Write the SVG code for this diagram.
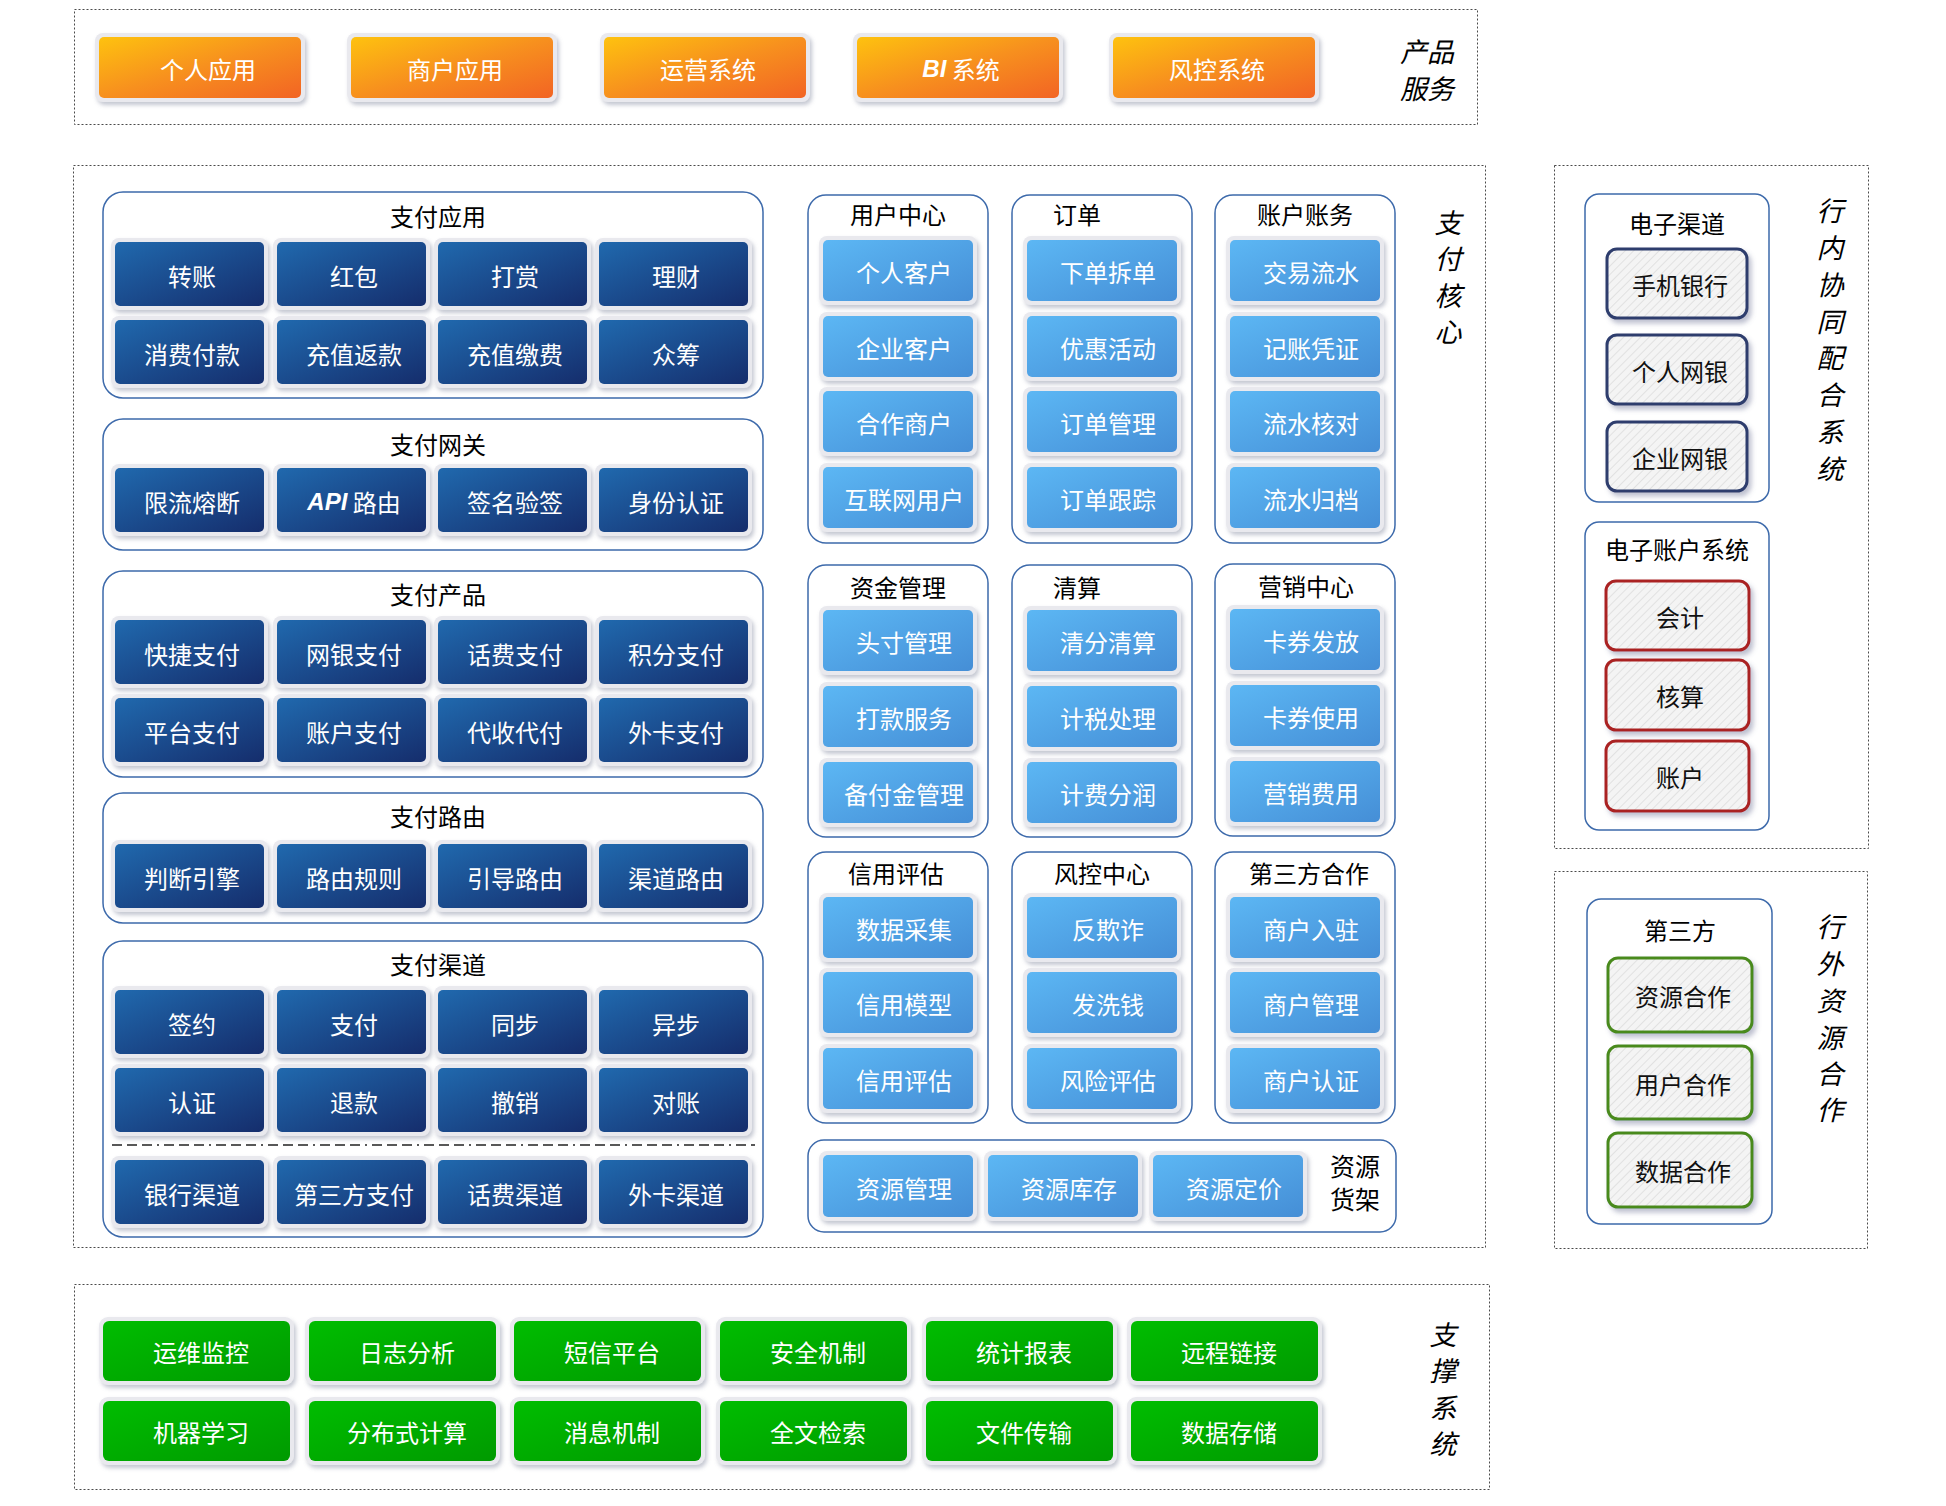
<svg xmlns="http://www.w3.org/2000/svg" width="1946" height="1506" viewBox="0 0 1946 1506">
<defs>
<linearGradient id="gOR" x1="0" y1="0" x2="1" y2="1"><stop offset="0" stop-color="#FEC20F"/><stop offset="0.5" stop-color="#F7901E"/><stop offset="1" stop-color="#F26424"/></linearGradient>
<linearGradient id="gDB" x1="0" y1="0" x2="1" y2="1"><stop offset="0" stop-color="#2069AE"/><stop offset="1" stop-color="#152D6C"/></linearGradient>
<linearGradient id="gLB" x1="0" y1="0" x2="1" y2="1"><stop offset="0" stop-color="#5CB7F4"/><stop offset="1" stop-color="#458ED6"/></linearGradient>
<linearGradient id="gGR" x1="0" y1="0" x2="1" y2="1"><stop offset="0" stop-color="#00BD00"/><stop offset="1" stop-color="#009A00"/></linearGradient>
<filter id="sh" x="-10%" y="-15%" width="125%" height="145%"><feDropShadow dx="2" dy="3" stdDeviation="2" flood-color="#7d8299" flood-opacity="0.45"/></filter>
<filter id="sh2" x="-10%" y="-15%" width="125%" height="145%"><feDropShadow dx="3" dy="4" stdDeviation="2.5" flood-color="#6d7596" flood-opacity="0.45"/></filter>
<pattern id="hatch" width="6" height="6" patternUnits="userSpaceOnUse" patternTransform="rotate(45)"><rect width="6" height="6" fill="#f4f4f4"/><line x1="0" y1="0" x2="0" y2="6" stroke="#e1e1e1" stroke-width="2"/></pattern>
</defs>
<style>
.box{fill:none;stroke:#4a4a4a;stroke-width:1;stroke-dasharray:2 2}
.panel{fill:#fff;stroke:#3d6aab;stroke-width:1.5}
.halo{fill:#e9e9ee;filter:url(#sh)}
.or{fill:url(#gOR)}.db{fill:url(#gDB)}.lb{fill:url(#gLB)}.gr{fill:url(#gGR)}
.rb{fill:url(#hatch);stroke-width:3;filter:url(#sh2)}
.nv{stroke:#2d3d6d}.rd{stroke:#aa2222}.gn{stroke:#4a8a1e}
.t{font-family:"Noto Sans CJK SC","Liberation Sans",sans-serif;font-size:24px;text-anchor:middle;dominant-baseline:central}
.w{fill:#fff}.k{fill:#111}
.ti{fill:#000}
.lbl{font-style:italic;font-size:27px;fill:#000}
.dsh{stroke:#222;stroke-width:1.5;stroke-dasharray:10 5 10 5 10 5 2 5;fill:none}
.en{font-family:"Liberation Sans",sans-serif;font-weight:bold;font-style:italic}
</style>

<!-- outer dashed regions -->
<g id="region-product"><rect class="box" x="74.5" y="9.5" width="1403" height="115"/>
<text class="t lbl" x="1427" y="50">产品</text><text class="t lbl" x="1427" y="87">服务</text></g>
<g id="region-core"><rect class="box" x="73.5" y="165.5" width="1412" height="1082"/>
<text class="t lbl" x="1448" y="221">支</text><text class="t lbl" x="1448" y="257">付</text><text class="t lbl" x="1448" y="294">核</text><text class="t lbl" x="1448" y="330">心</text></g>
<g id="region-inner"><rect class="box" x="1554.5" y="165.5" width="314" height="683"/>
<text class="t lbl" x="1830" y="209">行</text><text class="t lbl" x="1830" y="246">内</text><text class="t lbl" x="1830" y="283">协</text><text class="t lbl" x="1830" y="320">同</text><text class="t lbl" x="1830" y="356">配</text><text class="t lbl" x="1830" y="393">合</text><text class="t lbl" x="1830" y="430">系</text><text class="t lbl" x="1830" y="467">统</text></g>
<g id="region-outer"><rect class="box" x="1554.5" y="871.5" width="313" height="377"/>
<text class="t lbl" x="1830" y="925">行</text><text class="t lbl" x="1830" y="962">外</text><text class="t lbl" x="1830" y="999">资</text><text class="t lbl" x="1830" y="1036">源</text><text class="t lbl" x="1830" y="1072">合</text><text class="t lbl" x="1830" y="1108">作</text></g>
<g id="region-support"><rect class="box" x="74.5" y="1284.5" width="1415" height="205"/>
<text class="t lbl" x="1443" y="1333">支</text><text class="t lbl" x="1443" y="1369">撑</text><text class="t lbl" x="1443" y="1406">系</text><text class="t lbl" x="1443" y="1442">统</text></g>

<!-- product services -->
<g id="p-1"><rect class="halo" x="95" y="33" width="210" height="69" rx="8"/><rect class="or" x="99" y="37" width="202" height="61" rx="5"/><text class="t w" x="208" y="68">个人应用</text></g>
<g id="p-2"><rect class="halo" x="347" y="33" width="210" height="69" rx="8"/><rect class="or" x="351" y="37" width="202" height="61" rx="5"/><text class="t w" x="455" y="68">商户应用</text></g>
<g id="p-3"><rect class="halo" x="600" y="33" width="210" height="69" rx="8"/><rect class="or" x="604" y="37" width="202" height="61" rx="5"/><text class="t w" x="708" y="68">运营系统</text></g>
<g id="p-4"><rect class="halo" x="853" y="33" width="210" height="69" rx="8"/><rect class="or" x="857" y="37" width="202" height="61" rx="5"/><text class="t w" x="961" y="68"><tspan class="en">BI</tspan> 系统</text></g>
<g id="p-5"><rect class="halo" x="1109" y="33" width="210" height="69" rx="8"/><rect class="or" x="1113" y="37" width="202" height="61" rx="5"/><text class="t w" x="1217" y="68">风控系统</text></g>

<!-- left column panels -->
<g id="pay-app"><rect class="panel" x="103" y="192" width="660" height="206" rx="20"/><text class="t ti" x="438" y="215">支付应用</text>
<g id="pa1"><rect class="halo" x="111" y="238" width="157" height="72" rx="8"/><rect class="db" x="115" y="242" width="149" height="64" rx="5"/><text class="t w" x="192" y="275">转账</text></g>
<g id="pa2"><rect class="halo" x="273" y="238" width="157" height="72" rx="8"/><rect class="db" x="277" y="242" width="149" height="64" rx="5"/><text class="t w" x="354" y="275">红包</text></g>
<g id="pa3"><rect class="halo" x="434" y="238" width="157" height="72" rx="8"/><rect class="db" x="438" y="242" width="149" height="64" rx="5"/><text class="t w" x="515" y="275">打赏</text></g>
<g id="pa4"><rect class="halo" x="595" y="238" width="157" height="72" rx="8"/><rect class="db" x="599" y="242" width="149" height="64" rx="5"/><text class="t w" x="676" y="275">理财</text></g>
<g id="pa5"><rect class="halo" x="111" y="316" width="157" height="72" rx="8"/><rect class="db" x="115" y="320" width="149" height="64" rx="5"/><text class="t w" x="192" y="353">消费付款</text></g>
<g id="pa6"><rect class="halo" x="273" y="316" width="157" height="72" rx="8"/><rect class="db" x="277" y="320" width="149" height="64" rx="5"/><text class="t w" x="354" y="353">充值返款</text></g>
<g id="pa7"><rect class="halo" x="434" y="316" width="157" height="72" rx="8"/><rect class="db" x="438" y="320" width="149" height="64" rx="5"/><text class="t w" x="515" y="353">充值缴费</text></g>
<g id="pa8"><rect class="halo" x="595" y="316" width="157" height="72" rx="8"/><rect class="db" x="599" y="320" width="149" height="64" rx="5"/><text class="t w" x="676" y="353">众筹</text></g>
</g>

<g id="pay-gateway"><rect class="panel" x="103" y="419" width="660" height="131" rx="20"/><text class="t ti" x="438" y="443">支付网关</text>
<g id="pg1"><rect class="halo" x="111" y="464" width="157" height="72" rx="8"/><rect class="db" x="115" y="468" width="149" height="64" rx="5"/><text class="t w" x="192" y="501">限流熔断</text></g>
<g id="pg2"><rect class="halo" x="273" y="464" width="157" height="72" rx="8"/><rect class="db" x="277" y="468" width="149" height="64" rx="5"/><text class="t w" x="354" y="501"><tspan class="en">API</tspan> 路由</text></g>
<g id="pg3"><rect class="halo" x="434" y="464" width="157" height="72" rx="8"/><rect class="db" x="438" y="468" width="149" height="64" rx="5"/><text class="t w" x="515" y="501">签名验签</text></g>
<g id="pg4"><rect class="halo" x="595" y="464" width="157" height="72" rx="8"/><rect class="db" x="599" y="468" width="149" height="64" rx="5"/><text class="t w" x="676" y="501">身份认证</text></g>
</g>

<g id="pay-product"><rect class="panel" x="103" y="571" width="660" height="206" rx="20"/><text class="t ti" x="438" y="593">支付产品</text>
<g id="pp1"><rect class="halo" x="111" y="616" width="157" height="72" rx="8"/><rect class="db" x="115" y="620" width="149" height="64" rx="5"/><text class="t w" x="192" y="653">快捷支付</text></g>
<g id="pp2"><rect class="halo" x="273" y="616" width="157" height="72" rx="8"/><rect class="db" x="277" y="620" width="149" height="64" rx="5"/><text class="t w" x="354" y="653">网银支付</text></g>
<g id="pp3"><rect class="halo" x="434" y="616" width="157" height="72" rx="8"/><rect class="db" x="438" y="620" width="149" height="64" rx="5"/><text class="t w" x="515" y="653">话费支付</text></g>
<g id="pp4"><rect class="halo" x="595" y="616" width="157" height="72" rx="8"/><rect class="db" x="599" y="620" width="149" height="64" rx="5"/><text class="t w" x="676" y="653">积分支付</text></g>
<g id="pp5"><rect class="halo" x="111" y="694" width="157" height="72" rx="8"/><rect class="db" x="115" y="698" width="149" height="64" rx="5"/><text class="t w" x="192" y="731">平台支付</text></g>
<g id="pp6"><rect class="halo" x="273" y="694" width="157" height="72" rx="8"/><rect class="db" x="277" y="698" width="149" height="64" rx="5"/><text class="t w" x="354" y="731">账户支付</text></g>
<g id="pp7"><rect class="halo" x="434" y="694" width="157" height="72" rx="8"/><rect class="db" x="438" y="698" width="149" height="64" rx="5"/><text class="t w" x="515" y="731">代收代付</text></g>
<g id="pp8"><rect class="halo" x="595" y="694" width="157" height="72" rx="8"/><rect class="db" x="599" y="698" width="149" height="64" rx="5"/><text class="t w" x="676" y="731">外卡支付</text></g>
</g>

<g id="pay-route"><rect class="panel" x="103" y="793" width="660" height="130" rx="20"/><text class="t ti" x="438" y="815">支付路由</text>
<g id="pr1"><rect class="halo" x="111" y="840" width="157" height="72" rx="8"/><rect class="db" x="115" y="844" width="149" height="64" rx="5"/><text class="t w" x="192" y="877">判断引擎</text></g>
<g id="pr2"><rect class="halo" x="273" y="840" width="157" height="72" rx="8"/><rect class="db" x="277" y="844" width="149" height="64" rx="5"/><text class="t w" x="354" y="877">路由规则</text></g>
<g id="pr3"><rect class="halo" x="434" y="840" width="157" height="72" rx="8"/><rect class="db" x="438" y="844" width="149" height="64" rx="5"/><text class="t w" x="515" y="877">引导路由</text></g>
<g id="pr4"><rect class="halo" x="595" y="840" width="157" height="72" rx="8"/><rect class="db" x="599" y="844" width="149" height="64" rx="5"/><text class="t w" x="676" y="877">渠道路由</text></g>
</g>

<g id="pay-channel"><rect class="panel" x="103" y="941" width="660" height="296" rx="20"/><text class="t ti" x="438" y="963">支付渠道</text>
<g id="pc1"><rect class="halo" x="111" y="986" width="157" height="72" rx="8"/><rect class="db" x="115" y="990" width="149" height="64" rx="5"/><text class="t w" x="192" y="1023">签约</text></g>
<g id="pc2"><rect class="halo" x="273" y="986" width="157" height="72" rx="8"/><rect class="db" x="277" y="990" width="149" height="64" rx="5"/><text class="t w" x="354" y="1023">支付</text></g>
<g id="pc3"><rect class="halo" x="434" y="986" width="157" height="72" rx="8"/><rect class="db" x="438" y="990" width="149" height="64" rx="5"/><text class="t w" x="515" y="1023">同步</text></g>
<g id="pc4"><rect class="halo" x="595" y="986" width="157" height="72" rx="8"/><rect class="db" x="599" y="990" width="149" height="64" rx="5"/><text class="t w" x="676" y="1023">异步</text></g>
<g id="pc5"><rect class="halo" x="111" y="1064" width="157" height="72" rx="8"/><rect class="db" x="115" y="1068" width="149" height="64" rx="5"/><text class="t w" x="192" y="1101">认证</text></g>
<g id="pc6"><rect class="halo" x="273" y="1064" width="157" height="72" rx="8"/><rect class="db" x="277" y="1068" width="149" height="64" rx="5"/><text class="t w" x="354" y="1101">退款</text></g>
<g id="pc7"><rect class="halo" x="434" y="1064" width="157" height="72" rx="8"/><rect class="db" x="438" y="1068" width="149" height="64" rx="5"/><text class="t w" x="515" y="1101">撤销</text></g>
<g id="pc8"><rect class="halo" x="595" y="1064" width="157" height="72" rx="8"/><rect class="db" x="599" y="1068" width="149" height="64" rx="5"/><text class="t w" x="676" y="1101">对账</text></g>
<line class="dsh" x1="112" y1="1145" x2="755" y2="1145"/>
<g id="pc9"><rect class="halo" x="111" y="1156" width="157" height="72" rx="8"/><rect class="db" x="115" y="1160" width="149" height="64" rx="5"/><text class="t w" x="192" y="1193">银行渠道</text></g>
<g id="pc10"><rect class="halo" x="273" y="1156" width="157" height="72" rx="8"/><rect class="db" x="277" y="1160" width="149" height="64" rx="5"/><text class="t w" x="354" y="1193">第三方支付</text></g>
<g id="pc11"><rect class="halo" x="434" y="1156" width="157" height="72" rx="8"/><rect class="db" x="438" y="1160" width="149" height="64" rx="5"/><text class="t w" x="515" y="1193">话费渠道</text></g>
<g id="pc12"><rect class="halo" x="595" y="1156" width="157" height="72" rx="8"/><rect class="db" x="599" y="1160" width="149" height="64" rx="5"/><text class="t w" x="676" y="1193">外卡渠道</text></g>
</g>

<!-- middle panels row 1 -->
<g id="user-center"><rect class="panel" x="808" y="195" width="180" height="348" rx="18"/><text class="t ti" x="898" y="213">用户中心</text>
<g id="uc1"><rect class="halo" x="819" y="236" width="158" height="69" rx="8"/><rect class="lb" x="823" y="240" width="150" height="61" rx="5"/><text class="t w" x="904" y="271">个人客户</text></g>
<g id="uc2"><rect class="halo" x="819" y="312" width="158" height="69" rx="8"/><rect class="lb" x="823" y="316" width="150" height="61" rx="5"/><text class="t w" x="904" y="347">企业客户</text></g>
<g id="uc3"><rect class="halo" x="819" y="387" width="158" height="69" rx="8"/><rect class="lb" x="823" y="391" width="150" height="61" rx="5"/><text class="t w" x="904" y="422">合作商户</text></g>
<g id="uc4"><rect class="halo" x="819" y="463" width="158" height="69" rx="8"/><rect class="lb" x="823" y="467" width="150" height="61" rx="5"/><text class="t w" x="904" y="498">互联网用户</text></g>
</g>
<g id="order"><rect class="panel" x="1012" y="195" width="180" height="348" rx="18"/><text class="t ti" x="1077" y="213">订单</text>
<g id="od1"><rect class="halo" x="1023" y="236" width="158" height="69" rx="8"/><rect class="lb" x="1027" y="240" width="150" height="61" rx="5"/><text class="t w" x="1108" y="271">下单拆单</text></g>
<g id="od2"><rect class="halo" x="1023" y="312" width="158" height="69" rx="8"/><rect class="lb" x="1027" y="316" width="150" height="61" rx="5"/><text class="t w" x="1108" y="347">优惠活动</text></g>
<g id="od3"><rect class="halo" x="1023" y="387" width="158" height="69" rx="8"/><rect class="lb" x="1027" y="391" width="150" height="61" rx="5"/><text class="t w" x="1108" y="422">订单管理</text></g>
<g id="od4"><rect class="halo" x="1023" y="463" width="158" height="69" rx="8"/><rect class="lb" x="1027" y="467" width="150" height="61" rx="5"/><text class="t w" x="1108" y="498">订单跟踪</text></g>
</g>
<g id="account"><rect class="panel" x="1215" y="195" width="180" height="348" rx="18"/><text class="t ti" x="1305" y="213">账户账务</text>
<g id="ac1"><rect class="halo" x="1226" y="236" width="158" height="69" rx="8"/><rect class="lb" x="1230" y="240" width="150" height="61" rx="5"/><text class="t w" x="1311" y="271">交易流水</text></g>
<g id="ac2"><rect class="halo" x="1226" y="312" width="158" height="69" rx="8"/><rect class="lb" x="1230" y="316" width="150" height="61" rx="5"/><text class="t w" x="1311" y="347">记账凭证</text></g>
<g id="ac3"><rect class="halo" x="1226" y="387" width="158" height="69" rx="8"/><rect class="lb" x="1230" y="391" width="150" height="61" rx="5"/><text class="t w" x="1311" y="422">流水核对</text></g>
<g id="ac4"><rect class="halo" x="1226" y="463" width="158" height="69" rx="8"/><rect class="lb" x="1230" y="467" width="150" height="61" rx="5"/><text class="t w" x="1311" y="498">流水归档</text></g>
</g>

<!-- middle row 2 -->
<g id="fund"><rect class="panel" x="808" y="565" width="180" height="272" rx="18"/><text class="t ti" x="898" y="586">资金管理</text>
<g id="fd1"><rect class="halo" x="819" y="606" width="158" height="69" rx="8"/><rect class="lb" x="823" y="610" width="150" height="61" rx="5"/><text class="t w" x="904" y="641">头寸管理</text></g>
<g id="fd2"><rect class="halo" x="819" y="682" width="158" height="69" rx="8"/><rect class="lb" x="823" y="686" width="150" height="61" rx="5"/><text class="t w" x="904" y="717">打款服务</text></g>
<g id="fd3"><rect class="halo" x="819" y="758" width="158" height="69" rx="8"/><rect class="lb" x="823" y="762" width="150" height="61" rx="5"/><text class="t w" x="904" y="793">备付金管理</text></g>
</g>
<g id="clearing"><rect class="panel" x="1012" y="565" width="180" height="272" rx="18"/><text class="t ti" x="1077" y="586">清算</text>
<g id="cl1"><rect class="halo" x="1023" y="606" width="158" height="69" rx="8"/><rect class="lb" x="1027" y="610" width="150" height="61" rx="5"/><text class="t w" x="1108" y="641">清分清算</text></g>
<g id="cl2"><rect class="halo" x="1023" y="682" width="158" height="69" rx="8"/><rect class="lb" x="1027" y="686" width="150" height="61" rx="5"/><text class="t w" x="1108" y="717">计税处理</text></g>
<g id="cl3"><rect class="halo" x="1023" y="758" width="158" height="69" rx="8"/><rect class="lb" x="1027" y="762" width="150" height="61" rx="5"/><text class="t w" x="1108" y="793">计费分润</text></g>
</g>
<g id="marketing"><rect class="panel" x="1215" y="564" width="180" height="272" rx="18"/><text class="t ti" x="1306" y="585">营销中心</text>
<g id="mk1"><rect class="halo" x="1226" y="605" width="158" height="69" rx="8"/><rect class="lb" x="1230" y="609" width="150" height="61" rx="5"/><text class="t w" x="1311" y="640">卡券发放</text></g>
<g id="mk2"><rect class="halo" x="1226" y="681" width="158" height="69" rx="8"/><rect class="lb" x="1230" y="685" width="150" height="61" rx="5"/><text class="t w" x="1311" y="716">卡券使用</text></g>
<g id="mk3"><rect class="halo" x="1226" y="757" width="158" height="69" rx="8"/><rect class="lb" x="1230" y="761" width="150" height="61" rx="5"/><text class="t w" x="1311" y="792">营销费用</text></g>
</g>

<!-- middle row 3 -->
<g id="credit"><rect class="panel" x="808" y="852" width="180" height="271" rx="18"/><text class="t ti" x="896" y="872">信用评估</text>
<g id="cr1"><rect class="halo" x="819" y="893" width="158" height="69" rx="8"/><rect class="lb" x="823" y="897" width="150" height="61" rx="5"/><text class="t w" x="904" y="928">数据采集</text></g>
<g id="cr2"><rect class="halo" x="819" y="968" width="158" height="69" rx="8"/><rect class="lb" x="823" y="972" width="150" height="61" rx="5"/><text class="t w" x="904" y="1003">信用模型</text></g>
<g id="cr3"><rect class="halo" x="819" y="1044" width="158" height="69" rx="8"/><rect class="lb" x="823" y="1048" width="150" height="61" rx="5"/><text class="t w" x="904" y="1079">信用评估</text></g>
</g>
<g id="risk"><rect class="panel" x="1012" y="852" width="180" height="271" rx="18"/><text class="t ti" x="1102" y="872">风控中心</text>
<g id="rk1"><rect class="halo" x="1023" y="893" width="158" height="69" rx="8"/><rect class="lb" x="1027" y="897" width="150" height="61" rx="5"/><text class="t w" x="1108" y="928">反欺诈</text></g>
<g id="rk2"><rect class="halo" x="1023" y="968" width="158" height="69" rx="8"/><rect class="lb" x="1027" y="972" width="150" height="61" rx="5"/><text class="t w" x="1108" y="1003">发洗钱</text></g>
<g id="rk3"><rect class="halo" x="1023" y="1044" width="158" height="69" rx="8"/><rect class="lb" x="1027" y="1048" width="150" height="61" rx="5"/><text class="t w" x="1108" y="1079">风险评估</text></g>
</g>
<g id="partner"><rect class="panel" x="1215" y="852" width="180" height="271" rx="18"/><text class="t ti" x="1309" y="872">第三方合作</text>
<g id="pt1"><rect class="halo" x="1226" y="893" width="158" height="69" rx="8"/><rect class="lb" x="1230" y="897" width="150" height="61" rx="5"/><text class="t w" x="1311" y="928">商户入驻</text></g>
<g id="pt2"><rect class="halo" x="1226" y="968" width="158" height="69" rx="8"/><rect class="lb" x="1230" y="972" width="150" height="61" rx="5"/><text class="t w" x="1311" y="1003">商户管理</text></g>
<g id="pt3"><rect class="halo" x="1226" y="1044" width="158" height="69" rx="8"/><rect class="lb" x="1230" y="1048" width="150" height="61" rx="5"/><text class="t w" x="1311" y="1079">商户认证</text></g>
</g>

<g id="resource-shelf"><rect class="panel" x="808" y="1140" width="588" height="92" rx="16"/>
<text class="t ti" x="1355" y="1165" style="font-size:25px">资源</text><text class="t ti" x="1355" y="1198" style="font-size:25px">货架</text>
<g id="rs1"><rect class="halo" x="819" y="1151" width="158" height="70" rx="8"/><rect class="lb" x="823" y="1155" width="150" height="62" rx="5"/><text class="t w" x="904" y="1187">资源管理</text></g>
<g id="rs2"><rect class="halo" x="984" y="1151" width="158" height="70" rx="8"/><rect class="lb" x="988" y="1155" width="150" height="62" rx="5"/><text class="t w" x="1069" y="1187">资源库存</text></g>
<g id="rs3"><rect class="halo" x="1149" y="1151" width="158" height="70" rx="8"/><rect class="lb" x="1153" y="1155" width="150" height="62" rx="5"/><text class="t w" x="1234" y="1187">资源定价</text></g>
</g>

<!-- right side -->
<g id="e-channel"><rect class="panel" x="1585" y="194" width="184" height="308" rx="14"/><text class="t ti" x="1677" y="222">电子渠道</text>
<g id="ec1"><rect class="rb nv" x="1607" y="249" width="140" height="69" rx="10"/><text class="t k" x="1680" y="284">手机银行</text></g>
<g id="ec2"><rect class="rb nv" x="1607" y="335" width="140" height="69" rx="10"/><text class="t k" x="1680" y="370">个人网银</text></g>
<g id="ec3"><rect class="rb nv" x="1607" y="422" width="140" height="69" rx="10"/><text class="t k" x="1680" y="457">企业网银</text></g>
</g>
<g id="e-account"><rect class="panel" x="1585" y="522" width="184" height="308" rx="14"/><text class="t ti" x="1677" y="548">电子账户系统</text>
<g id="ea1"><rect class="rb rd" x="1606" y="581" width="143" height="69" rx="10"/><text class="t k" x="1680" y="616">会计</text></g>
<g id="ea2"><rect class="rb rd" x="1606" y="660" width="143" height="70" rx="10"/><text class="t k" x="1680" y="695">核算</text></g>
<g id="ea3"><rect class="rb rd" x="1606" y="741" width="143" height="70" rx="10"/><text class="t k" x="1680" y="776">账户</text></g>
</g>
<g id="third-party"><rect class="panel" x="1587" y="899" width="185" height="325" rx="14"/><text class="t ti" x="1680" y="929">第三方</text>
<g id="tp1"><rect class="rb gn" x="1608" y="958" width="144" height="74" rx="10"/><text class="t k" x="1683" y="995">资源合作</text></g>
<g id="tp2"><rect class="rb gn" x="1608" y="1046" width="144" height="73" rx="10"/><text class="t k" x="1683" y="1083">用户合作</text></g>
<g id="tp3"><rect class="rb gn" x="1608" y="1133" width="144" height="74" rx="10"/><text class="t k" x="1683" y="1170">数据合作</text></g>
</g>

<!-- support systems -->
<g id="support">
<g id="s1"><rect class="halo" x="99" y="1317" width="195" height="68" rx="9"/><rect class="gr" x="103" y="1321" width="187" height="60" rx="6"/><text class="t w" x="201" y="1351">运维监控</text></g>
<g id="s2"><rect class="halo" x="305" y="1317" width="195" height="68" rx="9"/><rect class="gr" x="309" y="1321" width="187" height="60" rx="6"/><text class="t w" x="407" y="1351">日志分析</text></g>
<g id="s3"><rect class="halo" x="510" y="1317" width="195" height="68" rx="9"/><rect class="gr" x="514" y="1321" width="187" height="60" rx="6"/><text class="t w" x="612" y="1351">短信平台</text></g>
<g id="s4"><rect class="halo" x="716" y="1317" width="195" height="68" rx="9"/><rect class="gr" x="720" y="1321" width="187" height="60" rx="6"/><text class="t w" x="818" y="1351">安全机制</text></g>
<g id="s5"><rect class="halo" x="922" y="1317" width="195" height="68" rx="9"/><rect class="gr" x="926" y="1321" width="187" height="60" rx="6"/><text class="t w" x="1024" y="1351">统计报表</text></g>
<g id="s6"><rect class="halo" x="1127" y="1317" width="195" height="68" rx="9"/><rect class="gr" x="1131" y="1321" width="187" height="60" rx="6"/><text class="t w" x="1229" y="1351">远程链接</text></g>
<g id="s7"><rect class="halo" x="99" y="1397" width="195" height="68" rx="9"/><rect class="gr" x="103" y="1401" width="187" height="60" rx="6"/><text class="t w" x="201" y="1431">机器学习</text></g>
<g id="s8"><rect class="halo" x="305" y="1397" width="195" height="68" rx="9"/><rect class="gr" x="309" y="1401" width="187" height="60" rx="6"/><text class="t w" x="407" y="1431">分布式计算</text></g>
<g id="s9"><rect class="halo" x="510" y="1397" width="195" height="68" rx="9"/><rect class="gr" x="514" y="1401" width="187" height="60" rx="6"/><text class="t w" x="612" y="1431">消息机制</text></g>
<g id="s10"><rect class="halo" x="716" y="1397" width="195" height="68" rx="9"/><rect class="gr" x="720" y="1401" width="187" height="60" rx="6"/><text class="t w" x="818" y="1431">全文检索</text></g>
<g id="s11"><rect class="halo" x="922" y="1397" width="195" height="68" rx="9"/><rect class="gr" x="926" y="1401" width="187" height="60" rx="6"/><text class="t w" x="1024" y="1431">文件传输</text></g>
<g id="s12"><rect class="halo" x="1127" y="1397" width="195" height="68" rx="9"/><rect class="gr" x="1131" y="1401" width="187" height="60" rx="6"/><text class="t w" x="1229" y="1431">数据存储</text></g>
</g>

<g id="connectors"></g>
</svg>
